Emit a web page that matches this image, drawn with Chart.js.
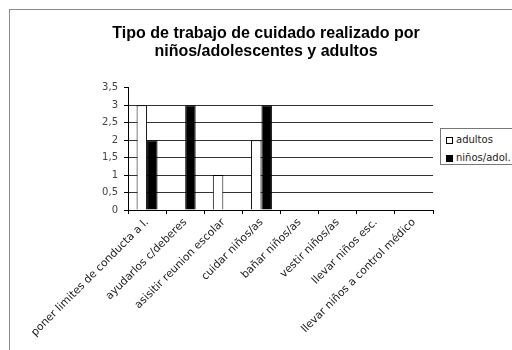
<!DOCTYPE html>
<html>
<head>
<meta charset="utf-8">
<script src="https://cdn.jsdelivr.net/npm/chart.js@4/dist/chart.umd.min.js"></script>
<style>
  html, body { margin: 0; padding: 0; background: #fff; overflow: hidden; }
  #wrap { position: relative; width: 512px; height: 350px; }
  #frame {
    position: absolute; left: 9px; top: 9px; width: 600px; height: 400px;
    border: 1px solid #8a8a8a; pointer-events: none;
  }
  #legend {
    position: absolute; left: 440px; top: 128px; width: 80px; height: 35px;
    border: 1px solid #777; background: #fff;
    font: 10px 'DejaVu Sans', sans-serif; color: #222;
  }
  #legend .item { position: absolute; left: 5px; height: 12px; line-height: 12px; white-space: nowrap; }
  #legend .sw { display: inline-block; width: 7px; height: 7px; border: 1px solid #000; margin-right: 3px; vertical-align: -1px; box-sizing: border-box; }
</style>
</head>
<body>
<div id="wrap">
  <canvas id="chart" width="512" height="350"></canvas>
  <div id="frame"></div>
  <div id="legend"></div>
</div>
<script>
// data
const categories = [
  'poner limites de conducta a l.',
  'ayudarlos c/deberes',
  'asisitir reunion escolar',
  'cuidar niños/as',
  'bañar niños/as',
  'vestir niños/as',
  'llevar niños esc.',
  'llevar niños a control médico'
];
const adultos = [3, 0, 1, 2, 0, 0, 0, 0];
const ninosAdol = [2, 3, 0, 3, 0, 0, 0, 0];
const seriesLabels = ['adultos', 'niños/adol.'];
const titleLines = ['Tipo de trabajo de cuidado realizado por', 'niños/adolescentes y adultos'];
const yMax = 3.5;
const yStep = 0.5;

const FONT = "'DejaVu Sans', sans-serif";
const TITLE_FONT = "'Liberation Sans', Arial, sans-serif";

const datasets = [
  { label: seriesLabels[0], data: adultos, backgroundColor: '#fff', borderColor: '#000', borderWidth: 1 },
  { label: seriesLabels[1], data: ninosAdol, backgroundColor: '#000', borderColor: '#000', borderWidth: 1 }
];

// html legend built from the datasets
const legendEl = document.getElementById('legend');
datasets.forEach((ds, i) => {
  const it = document.createElement('div');
  it.className = 'item';
  it.style.top = (5 + i * 18) + 'px';
  const sw = document.createElement('span');
  sw.className = 'sw';
  sw.style.background = ds.backgroundColor;
  it.appendChild(sw);
  it.appendChild(document.createTextNode(ds.label));
  legendEl.appendChild(it);
});

const ctx = document.getElementById('chart').getContext('2d');
new Chart(ctx, {
  type: 'bar',
  data: { labels: categories, datasets },
  options: {
    responsive: false,
    animation: false,
    layout: { padding: { left: 99, right: 79, top: 0, bottom: 0 } },
    datasets: { bar: { categoryPercentage: 0.55, barPercentage: 1 } },
    plugins: {
      legend: { display: false },
      tooltip: { enabled: false },
      title: {
        display: true,
        text: titleLines,
        color: '#000',
        font: { family: TITLE_FONT, size: 16, weight: 'bold', lineHeight: 1.15 },
        padding: { top: 24, bottom: 27 }
      }
    },
    scales: {
      x: {
        grid: { drawOnChartArea: false, drawTicks: true, tickLength: 4, color: '#000', offset: true },
        border: { display: true, color: '#000' },
        ticks: {
          autoSkip: false, minRotation: 45, maxRotation: 45, padding: 2,
          color: '#222', font: { family: FONT, size: 10.8 }
        },
        afterFit(scale) { scale.height = 140; }
      },
      y: {
        min: 0, max: yMax,
        grid: {
          color: (c) => (c.tick && c.tick.value === yMax) ? 'rgba(0,0,0,0)' : '#333',
          tickColor: '#000', tickLength: 4, drawTicks: true
        },
        border: { display: true, color: '#000' },
        ticks: {
          stepSize: yStep, padding: 6, color: '#444',
          font: { family: FONT, size: 10 },
          callback: (v) => String(v).replace('.', ',')
        },
        afterFit(scale) { scale.width = 29; }
      }
    }
  }
});
</script>
</body>
</html>
